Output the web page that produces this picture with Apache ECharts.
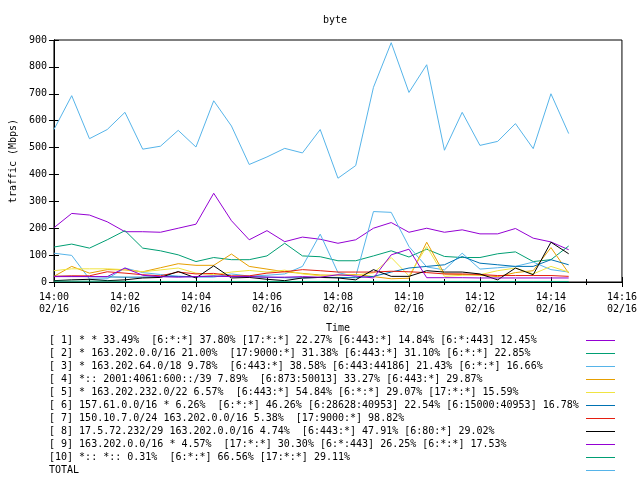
<!DOCTYPE html>
<html>
<head>
<meta charset="utf-8">
<script src="https://cdn.jsdelivr.net/npm/echarts@6/dist/echarts.min.js"></script>
<style>html,body{margin:0;padding:0;background:#fff}#c{width:640px;height:480px}</style>
</head>
<body>
<div id="c"></div>
<script>
const chartTitle = 'byte';
const times = ['14:00:00','14:00:30','14:01:00','14:01:30','14:02:00','14:02:30','14:03:00','14:03:30','14:04:00','14:04:30',
  '14:05:00','14:05:30','14:06:00','14:06:30','14:07:00','14:07:30','14:08:00','14:08:30','14:09:00','14:09:30',
  '14:10:00','14:10:30','14:11:00','14:11:30','14:12:00','14:12:30','14:13:00','14:13:30','14:14:00','14:14:30'];
const seriesNames = [
  '[ 1] * * 33.49%  [6:*:*] 37.80% [17:*:*] 22.27% [6:443:*] 14.84% [6:*:443] 12.45%',
  '[ 2] * 163.202.0.0/16 21.00%  [17:9000:*] 31.38% [6:443:*] 31.10% [6:*:*] 22.85%',
  '[ 3] * 163.202.64.0/18 9.78%  [6:443:*] 38.58% [6:443:44186] 21.43% [6:*:*] 16.66%',
  '[ 4] *:: 2001:4061:600::/39 7.89%  [6:873:50013] 33.27% [6:443:*] 29.87%',
  '[ 5] * 163.202.232.0/22 6.57%  [6:443:*] 54.84% [6:*:*] 29.07% [17:*:*] 15.59%',
  '[ 6] 157.61.0.0/16 * 6.26%  [6:*:*] 46.26% [6:28628:40953] 22.54% [6:15000:40953] 16.78%',
  '[ 7] 150.10.7.0/24 163.202.0.0/16 5.38%  [17:9000:*] 98.82%',
  '[ 8] 17.5.72.232/29 163.202.0.0/16 4.74%  [6:443:*] 47.91% [6:80:*] 29.02%',
  '[ 9] 163.202.0.0/16 * 4.57%  [17:*:*] 30.30% [6:*:443] 26.25% [6:*:*] 17.53%',
  '[10] *:: *:: 0.31%  [6:*:*] 66.56% [17:*:*] 29.11%',
  'TOTAL'
];
const s1 = [202,255,249,224,187,187,185,200,215,330,228,157,191,150,167,159,144,157,200,221,185,200,185,194,179,179,199,163,149,120];
const s2 = [130,141,126,157,191,126,116,101,76,91,83,83,97,144,97,94,79,79,97,116,93,122,95,91,91,105,112,76,83,134];
const s3 = [107,99,11,12,52,35,28,22,18,18,30,22,25,30,58,178,35,20,262,259,132,56,45,107,48,53,58,74,46,37];
const s4 = [21,58,33,46,45,38,53,68,62,62,104,58,48,38,32,26,25,28,20,12,14,148,30,28,25,20,35,42,128,33];
const s5 = [42,49,49,49,46,38,45,52,33,27,37,43,37,44,30,23,25,26,34,91,23,132,21,25,27,42,52,30,58,37];
const s6 = [21,21,20,19,18,18,20,20,20,22,20,20,18,16,15,17,17,16,21,37,52,58,64,95,70,64,58,58,83,64];
const s7 = [21,23,23,38,33,27,23,37,30,32,23,23,33,38,46,42,37,37,37,40,38,35,30,30,28,24,24,24,24,21];
const s8 = [5,8,10,5,8,15,17,39,15,60,15,17,10,5,15,17,15,8,46,21,21,42,37,37,30,8,52,27,148,105];
const s9 = [20,20,20,20,52,25,20,18,20,22,20,20,18,18,20,18,27,22,15,101,122,16,16,16,15,15,15,15,15,15];
const s10 = [3,3,3,3,2,2,2,2,2,2,2,2,2,2,2,2,2,2,2,2,2,2,2,2,2,2,2,2,2,2];
const total = [567,693,533,567,631,494,505,564,502,674,580,437,465,497,480,567,386,433,724,890,705,808,490,631,508,523,589,496,700,552];
const xTickMinutes = [0,2,4,6,8,10,12,14,16];
const dateLabel = '02/16';
const colors = ['#9400d3','#009e73','#56b4e9','#e69f00','#f0e442','#0072b2','#e51e10','#000000','#9400d3','#009e73','#56b4e9'];

const allValues = [s1,s2,s3,s4,s5,s6,s7,s8,s9,s10,total];
const FONT = '"DejaVu Sans Mono", "Liberation Mono", monospace';
function toMin(t){const p=t.split(':').map(Number);return (p[0]-14)*60+p[1]+p[2]/60;}
function pad(n){return (n<10?'0':'')+n;}

const series = allValues.map((vals, k) => ({
  name: seriesNames[k],
  type: 'line',
  symbol: 'none',
  showSymbol: false,
  color: colors[k],
  lineStyle: {width: 1, color: colors[k]},
  data: times.map((t, i) => [toMin(t), vals[i]]),
  animation: false,
  z: 2 + k
}));

const chart = echarts.init(document.getElementById('c'), null, {renderer: 'canvas'});
chart.setOption({
  animation: false,
  backgroundColor: '#fff',
  textStyle: {fontFamily: FONT},
  title: {
    text: chartTitle, left: 323, top: 15, padding: 0,
    textStyle: {fontFamily: FONT, fontSize: 10, fontWeight: 'normal', color: '#000'}
  },
  grid: {left: 53, right: 18, top: 40, bottom: 198, show: true, borderColor: '#000', borderWidth: 1, backgroundColor: 'transparent'},
  legend: {
    orient: 'vertical', left: 49, top: 334, align: 'right',
    itemWidth: 29, itemHeight: 13, itemGap: 0, padding: 0,
    data: seriesNames,
    itemStyle: {opacity: 0, borderWidth: 0},
    lineStyle: {width: 1, opacity: 1},
    formatter: n => '{n|' + n + '}',
    textStyle: {fontFamily: FONT, fontSize: 10, color: '#000',
      rich: {n: {width: 532, height: 13, lineHeight: 13, align: 'left', fontFamily: FONT, fontSize: 10, color: '#000'}}},
    selectedMode: false
  },
  xAxis: [{
    type: 'value', min: 0, max: 16, interval: 2,
    name: 'Time', nameLocation: 'middle', nameGap: 41,
    nameTextStyle: {fontFamily: FONT, fontSize: 10, color: '#000'},
    axisLine: {show: true, lineStyle: {color: '#000', width: 1}},
    axisTick: {show: true, inside: true, length: 5, lineStyle: {color: '#000'}},
    minorTick: {show: true, splitNumber: 2, length: 3, lineStyle: {color: '#000'}},
    splitLine: {show: false},
    axisLabel: {
      margin: 9, fontFamily: FONT, fontSize: 10, color: '#000', lineHeight: 12,
      formatter: v => xTickMinutes.includes(v) ? '14:' + pad(v) + '\n' + dateLabel : ''
    }
  }, {
    type: 'value', min: 0, max: 16, interval: 2, position: 'top',
    axisLine: {show: true, lineStyle: {color: '#000'}},
    axisTick: {show: true, inside: true, length: 5, lineStyle: {color: '#000'}},
    minorTick: {show: true, splitNumber: 2, length: 3, lineStyle: {color: '#000'}},
    splitLine: {show: false}, axisLabel: {show: false}
  }],
  yAxis: [{
    type: 'value', min: 0, max: 900, interval: 100,
    name: 'traffic (Mbps)', nameLocation: 'middle', nameGap: 35, nameRotate: 90,
    nameTextStyle: {fontFamily: FONT, fontSize: 10, color: '#000'},
    axisLine: {show: true, lineStyle: {color: '#000'}},
    axisTick: {show: true, inside: true, length: 5, lineStyle: {color: '#000'}},
    splitLine: {show: false},
    axisLabel: {margin: 7, fontFamily: FONT, fontSize: 10, color: '#000'}
  }, {
    type: 'value', min: 0, max: 900, interval: 100, position: 'right',
    axisLine: {show: true, lineStyle: {color: '#000'}},
    axisTick: {show: true, inside: true, length: 5, lineStyle: {color: '#000'}},
    splitLine: {show: false}, axisLabel: {show: false}
  }],
  series: series
});
</script>
</body>
</html>
